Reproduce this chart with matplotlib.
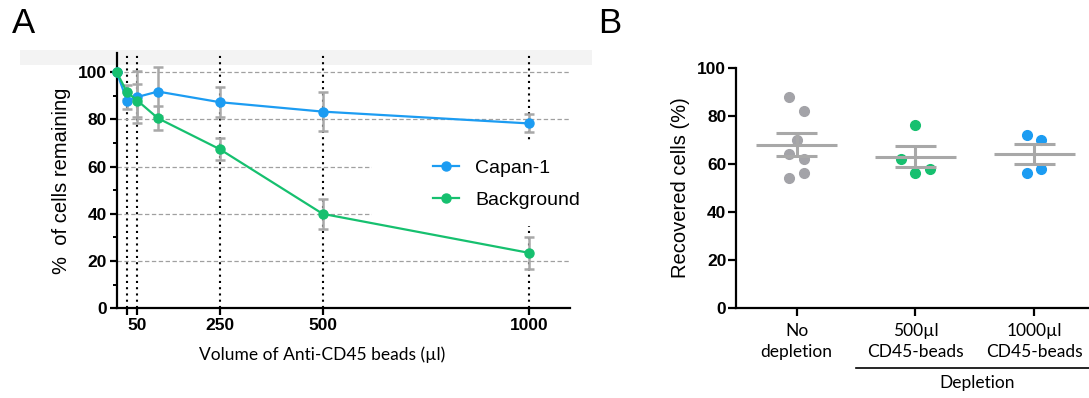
import matplotlib
matplotlib.use('Agg')
import matplotlib.pyplot as plt
import matplotlib.patches as mpatches
import matplotlib.transforms as mtransforms
import numpy as np

plt.rcParams['font.family'] = ['Liberation Sans', 'DejaVu Sans']

# ── Panel A: % of cells remaining vs bead volume ──
volumes = [0, 25, 50, 100, 250, 500, 1000]
capan_mean = [100, 88.0, 89.5, 91.8, 87.3, 83.3, 78.3]
capan_err = [0, 3.5, 11.0, 10.2, 6.3, 8.3, 3.8]
bg_mean = [100, 91.5, 88.0, 80.5, 67.4, 40.0, 23.5]
bg_err = [0, 3.0, 7.0, 5.0, 4.6, 6.5, 6.8]
ref_volumes = [25, 50, 250, 500, 1000]
vol_ticks = [25, 50, 250, 500, 1000]
vol_ticklabels = ['', '50', '250', '500', '1000']

# ── Panel B: recovered cells ──
groups = ['No\ndepletion', '500µl\nCD45-beads', '1000µl\nCD45-beads']
recovered_nodep = [88, 82, 70, 64, 62, 56, 54]
recovered_500 = [76, 62, 58, 56]
recovered_1000 = [72, 70, 58, 56]

# dot placement (GraphPad-style scatter), in units of 0.06 category width
jitter = [[-1, 1, 0, -1, 1, 1, -1], [0, -2, 2, 0], [-1, 1, 1, -1]]

blue = '#1c9cf2'
green = '#16c06f'
grey_pt = '#a3a3a8'
grey_bar = '#a8a8a8'

W, H = 1089, 398
fig = plt.figure(figsize=(W / 100, H / 100), dpi=100)


def px_axes(l, t, r, b):
    return [l / W, 1 - b / H, (r - l) / W, (b - t) / H]


# faint band across the top of panel A (scan artefact in the original)
fig.patches.append(mpatches.Rectangle((20 / W, 1 - 65 / H), 572 / W, 15 / H,
                                      transform=fig.transFigure, facecolor='#f3f3f3',
                                      edgecolor='none', zorder=-1))

axA = fig.add_axes(px_axes(116.7, 53.3, 570, 308.3))
axB = fig.add_axes(px_axes(736, 67.7, 1089, 307.7))

# ── Panel A ──
axA.set_facecolor('none')
for v in ref_volumes:
    axA.axvline(v, color='black', lw=1.5, ls=(0, (1, 2)), zorder=1)
for y in range(20, 101, 20):
    axA.axhline(y, color='#a0a0a0', lw=0.9, ls=(0, (3.5, 2)), zorder=1)

# white box behind the legend hides grid lines there
axA.add_patch(mpatches.Rectangle((0.563, 0.323), 0.5, 0.33, transform=axA.transAxes,
                                 facecolor='white', edgecolor='none', zorder=3, clip_on=False))

axA.errorbar(volumes, capan_mean, yerr=capan_err, fmt='none', ecolor=grey_bar,
             elinewidth=1.8, capsize=3.5, capthick=1.8, zorder=4)
axA.errorbar(volumes, bg_mean, yerr=bg_err, fmt='none', ecolor=grey_bar,
             elinewidth=1.8, capsize=3.5, capthick=1.8, zorder=4)
axA.plot(volumes, capan_mean, color=blue, lw=1.6, marker='o', ms=6.5,
         label='Capan-1', zorder=5, clip_on=False)
axA.plot(volumes, bg_mean, color=green, lw=1.6, marker='o', ms=6.5,
         label='Background', zorder=6, clip_on=False)

axA.set_xlim(0, 1100)
axA.set_ylim(0, 108)
axA.set_xticks(vol_ticks)
axA.set_xticklabels(vol_ticklabels)
axA.set_yticks(range(0, 101, 20))
axA.set_yticks(range(10, 100, 20), minor=True)
axA.tick_params(which='major', direction='out', length=5, width=1.6, labelsize=12.5, pad=2)
axA.tick_params(which='minor', direction='out', length=3, width=1.4)
axA.tick_params(axis='x', which='minor', bottom=False)
for lbl in axA.get_xticklabels() + axA.get_yticklabels():
    lbl.set_fontweight('bold')
for s in ['top', 'right']:
    axA.spines[s].set_visible(False)
for s in ['left', 'bottom']:
    axA.spines[s].set_linewidth(1.6)

axA.set_ylabel('%  of cells remaining', fontsize=14.5)
axA.yaxis.set_label_coords(-0.1, 0.5)
axA.set_xlabel('Volume of Anti-CD45 beads (µl)', fontsize=12.5, family=['Lato', 'DejaVu Sans'])
axA.xaxis.set_label_coords(0.453, -0.15)
axA.xaxis.label.set_va('top')

leg = axA.legend(loc='center left', bbox_to_anchor=(0.698, 0.487), frameon=False,
                 fontsize=14, handlelength=1.35, handletextpad=0.8, labelspacing=0.75,
                 borderpad=0, borderaxespad=0)
leg.set_zorder(7)

# ── Panel B ──
recovered = [recovered_nodep, recovered_500, recovered_1000]
dot_colors = [grey_pt, green, blue]
for i, vals in enumerate(recovered):
    xs = i + np.array(jitter[i]) * 0.06
    axB.plot(xs, vals, 'o', color=dot_colors[i], ms=7, ls='none', zorder=3, clip_on=False)
    m = np.mean(vals)
    sem = np.std(vals, ddof=1) / np.sqrt(len(vals))
    axB.hlines(m, i - 0.34, i + 0.34, color=grey_bar, lw=2.2, zorder=4)
    axB.hlines([m - sem, m + sem], i - 0.17, i + 0.17, color=grey_bar, lw=2.2, zorder=4)
    axB.vlines(i, m - sem, m + sem, color=grey_bar, lw=2.2, zorder=4)

axB.set_xlim(-0.51, 2.46)
axB.set_ylim(0, 100)
axB.set_yticks(range(0, 101, 20))
axB.set_xticks(range(len(groups)))
axB.set_xticklabels(groups, family=['Lato', 'DejaVu Sans'], fontsize=12.5, linespacing=1.35)
axB.tick_params(axis='y', direction='out', length=6, width=1.6, labelsize=12.5, pad=1)
axB.tick_params(axis='x', direction='out', length=6, width=1.6, pad=5)
for lbl in axB.get_yticklabels():
    lbl.set_fontweight('bold')
for s in ['top', 'right']:
    axB.spines[s].set_visible(False)
for s in ['left', 'bottom']:
    axB.spines[s].set_linewidth(1.6)
axB.set_ylabel('Recovered cells (%)', fontsize=14.5)
axB.yaxis.set_label_coords(-0.13, 0.5)

trans = mtransforms.blended_transform_factory(axB.transData, axB.transAxes)
axB.plot([0.5, 2.54], [-0.25, -0.25], transform=trans, color='black', lw=1.2, clip_on=False)
axB.text((0.5 + 2.54) / 2, -0.315, 'Depletion', transform=trans, ha='center', va='center',
         fontsize=12.5, family=['Lato', 'DejaVu Sans'])

fig.text(11.7 / W, 1 - 33.3 / H, 'A', fontsize=25, va='baseline')
fig.text(598 / W, 1 - 33.3 / H, 'B', fontsize=25, va='baseline')

fig.savefig('out.png', dpi=100, facecolor='white')
